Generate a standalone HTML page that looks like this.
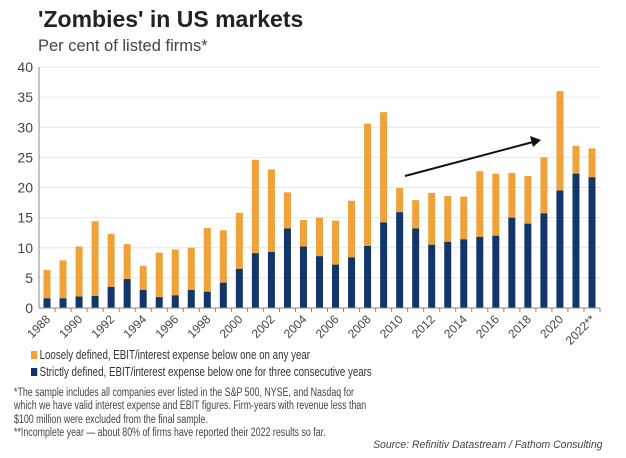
<!DOCTYPE html>
<html><head><meta charset="utf-8"><style>
body{margin:0;background:#fff;font-family:"Liberation Sans",sans-serif;}
#wrap{position:relative;width:626px;height:458px;overflow:hidden;}
.t{position:absolute;white-space:nowrap;color:#333;}
</style></head><body>
<div id="wrap">
<div class="t" style="left:38px;top:6px;font-size:23px;font-weight:bold;color:#222">'Zombies' in US markets</div>
<div class="t" style="left:38px;top:37px;font-size:16.5px;color:#444">Per cent of listed firms*</div>
<svg id="chart" width="626" height="350" style="position:absolute;left:0;top:0"></svg>
<div class="t" style="left:31px;top:348px;font-size:12.5px;transform:scaleX(0.78);transform-origin:0 0"><span style="display:inline-block;width:8px;height:8px;background:#f0a23a;margin-right:3px"></span>Loosely defined, EBIT/interest expense below one on any year</div>
<div class="t" style="left:31px;top:365px;font-size:12.5px;transform:scaleX(0.78);transform-origin:0 0"><span style="display:inline-block;width:8px;height:8px;background:#12356a;margin-right:3px"></span>Strictly defined, EBIT/interest expense below one for three consecutive years</div>
<div class="t" style="left:14px;top:387px;font-size:11.5px;line-height:13.3px;color:#444;transform:scaleX(0.77);transform-origin:0 0">*The sample includes all companies ever listed in the S&amp;P 500, NYSE, and Nasdaq for<br>which we have valid interest expense and EBIT figures. Firm-years with revenue less than<br>$100 million were excluded from the final sample.<br>**Incomplete year — about 80% of firms have reported their 2022 results so far.</div>
<div class="t" style="right:24px;top:439px;font-size:11px;font-style:italic;color:#444;transform:scaleX(0.95);transform-origin:100% 0">Source: Refinitiv Datastream / Fathom Consulting</div>
</div>
<script>
const years=["1988","1989","1990","1991","1992","1993","1994","1995","1996","1997","1998","1999","2000","2001","2002","2003","2004","2005","2006","2007","2008","2009","2010","2011","2012","2013","2014","2015","2016","2017","2018","2019","2020","2021","2022**"];
const totalVals=[6.3,7.9,10.2,14.4,12.3,10.6,7.0,9.2,9.7,10.0,13.3,12.9,15.8,24.6,23.0,19.2,14.6,15.0,14.5,17.8,30.6,32.5,19.9,17.9,19.1,18.6,18.5,22.7,22.3,22.4,21.9,25.0,36.0,26.9,26.5];
const strictVals=[1.6,1.6,1.9,2.0,3.5,4.8,3.0,1.8,2.1,3.0,2.7,4.2,6.5,9.1,9.3,13.2,10.2,8.6,7.2,8.4,10.3,14.2,15.9,13.2,10.5,11.0,11.4,11.8,12.0,15.0,14.0,15.7,19.5,22.3,21.7];
const yTicks=[0,5,10,15,20,25,30,35,40];
const NS="http://www.w3.org/2000/svg";
const svg=document.getElementById('chart');
const x0=39,x1=600,y0=308,y1=67;
const slot=(x1-x0)/years.length;
const X=i=>x0+slot*(i+0.5);
const Y=v=>y0-(v/40)*(y0-y1);
function mk(t,a){const e=document.createElementNS(NS,t);for(const k in a)e.setAttribute(k,a[k]);svg.appendChild(e);return e;}
yTicks.forEach(v=>{
  if(v>0){const g=mk('line',{x1:x0,x2:x1,y1:Y(v),y2:Y(v),stroke:'#e6e6e6','stroke-width':1});
  
  }
  const t=mk('text',{x:x0-6,y:Y(v)+5,'text-anchor':'end','font-size':14,fill:'#444','font-family':'Liberation Sans, sans-serif'});
  t.textContent=v;
  
  
});
years.forEach((yr,i)=>{
  const bw=7,cx=X(i);
  const b1=mk('rect',{x:cx-bw/2,y:Y(totalVals[i]),width:bw,height:Y(strictVals[i])-Y(totalVals[i]),fill:'#f0a23a'});
  
  
  const b2=mk('rect',{x:cx-bw/2,y:Y(strictVals[i]),width:bw,height:y0-Y(strictVals[i]),fill:'#12356a'});
  
  
  const tk=mk('line',{x1:x0+slot*(i+1),x2:x0+slot*(i+1),y1:y0,y2:y0+4,stroke:'#888'});
  
  
  if(i%2===0){
    const t=mk('text',{x:cx+4,y:y0+12,'text-anchor':'end','font-size':12,fill:'#444','font-family':'Liberation Sans, sans-serif',transform:`rotate(-45 ${cx+4} ${y0+12})`});
    t.textContent=yr;
    
    
  }
});
const ax=mk('line',{x1:x0,x2:x1,y1:y0,y2:y0,stroke:'#888'});


const ay=mk('line',{x1:x0,x2:x0,y1:y1,y2:y0,stroke:'#888'});


const ar=mk('line',{x1:405,y1:176,x2:533,y2:142,stroke:'#111','stroke-width':2});


const ah=mk('polygon',{points:'541,140 530,136 533,147',fill:'#111'});


</script>
</body></html>
